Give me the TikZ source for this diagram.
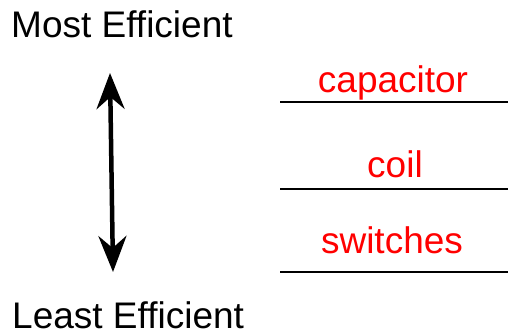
\documentclass[tikz,border=0pt]{standalone}
\usepackage{fontspec}
\setmainfont{Liberation Sans}
\usetikzlibrary{arrows.meta, positioning}
\tikzset{
  % Scale labels
  endlabel/.style={anchor=base west, inner sep=0pt, font=\fontsize{37}{44}\selectfont},
  % Ranked items
  rank/.style={anchor=base, inner sep=0pt, text=red, font=\fontsize{37}{44}\selectfont},
  rung/.style={line width=2pt},
  scalearrow/.style={{Stealth[length=36pt, width=28pt, inset=12pt]}-{Stealth[length=36pt, width=28pt, inset=12pt]}, line width=4.5pt},
}
\begin{document}
\begin{tikzpicture}[x=1pt, y=-1pt]
    \useasboundingbox (0,0) rectangle (508,336);
    % End labels
    \node[endlabel] (most) at (11,38) {Most Efficient};
    \node[endlabel] (least) at (12,328) {Least Efficient};
    % Scale arrow
    \coordinate (top) at (110,73);
    \coordinate (bottom) at (113,272);
    \draw[scalearrow] (top) -- (bottom);
    % Rungs
    \foreach \y in {102, 189, 272} {
      \draw[rung] (280,\y) -- (508,\y);
    }
    % Items
    \node[rank] (cap) at (393,93) {capacitor};
    \node[rank] (coil) at (395,178) {coil};
    \node[rank] (sw) at (392,254) {switches};
\end{tikzpicture}
\end{document}
